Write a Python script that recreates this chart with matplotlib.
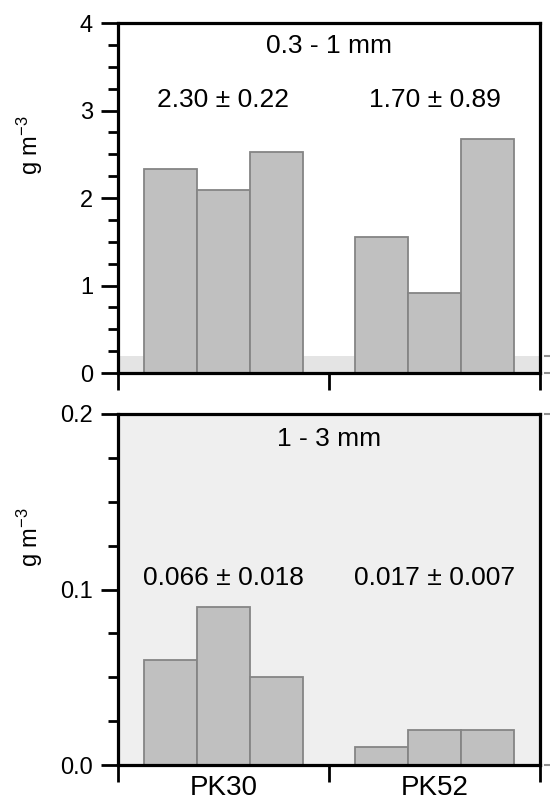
import matplotlib
matplotlib.use("Agg")
import matplotlib.pyplot as plt
from matplotlib.ticker import MultipleLocator, FixedLocator, FormatStrFormatter
import matplotlib.transforms as mtransforms

# ---- data ----
groups = ["PK30", "PK52"]
fine_values = [2.33, 2.09, 2.53, 1.55, 0.92, 2.67]      # 0.3 - 1 mm
coarse_values = [0.060, 0.090, 0.050, 0.010, 0.020, 0.020]  # 1 - 3 mm
bar_positions = [0.25, 0.5, 0.75, 1.25, 1.5, 1.75]
fine_title = "0.3 - 1 mm"
coarse_title = "1 - 3 mm"
fine_stats = ["2.30 ± 0.22", "1.70 ± 0.89"]
coarse_stats = ["0.066 ± 0.018", "0.017 ± 0.007"]
zoom_range = (0.0, 0.2)

plt.rcParams['font.family'] = ['Liberation Sans', 'DejaVu Sans']
plt.rcParams['mathtext.default'] = 'regular'

fig = plt.figure(figsize=(5.5, 8.02), dpi=100)
ax1 = fig.add_axes([0.2145, 0.5349, 0.7673, 0.4364])
ax2 = fig.add_axes([0.2145, 0.0461, 0.7673, 0.4377])

bar_face = "#c0c0c0"
bar_edge = "#858585"
band_col = "#e4e4e4"
bg2 = "#efefef"
ann_size = 19

for ax in (ax1, ax2):
    for s in ax.spines.values():
        s.set_linewidth(2.3)
        s.set_color("black")
    ax.set_xlim(0, 2)
    ax.xaxis.set_major_locator(FixedLocator([0, 1, 2]))
    ax.set_xticklabels([])
    ax.tick_params(axis='x', which='major', direction='out', length=12, width=2.0, top=False)
    ax.tick_params(axis='y', which='major', direction='out', length=12, width=2.0, labelsize=17, right=False, pad=6)
    ax.tick_params(axis='y', which='minor', direction='out', length=7, width=2.0, right=False)
    ax.set_ylabel("g m$^{-3}$", fontsize=17)
    ax.yaxis.set_label_coords(-0.173, 0.65)

# top panel
ax1.axhspan(zoom_range[0], zoom_range[1], color=band_col, zorder=0, lw=0)
ax1.bar(bar_positions, fine_values, width=0.25, color=bar_face, edgecolor=bar_edge, linewidth=1.3, zorder=2)
ax1.set_ylim(0, 4)
ax1.yaxis.set_major_locator(MultipleLocator(1))
ax1.yaxis.set_minor_locator(MultipleLocator(0.25))
ax1.text(1.0, 3.74, fine_title, ha='center', va='center', fontsize=ann_size)
ax1.text(0.5, 3.12, fine_stats[0], ha='center', va='center', fontsize=ann_size)
ax1.text(1.5, 3.12, fine_stats[1], ha='center', va='center', fontsize=ann_size)

# bottom panel
ax2.set_facecolor(bg2)
ax2.bar(bar_positions, coarse_values, width=0.25, color=bar_face, edgecolor=bar_edge, linewidth=1.3, zorder=2)
ax2.set_ylim(*zoom_range)
ax2.yaxis.set_major_locator(MultipleLocator(0.1))
ax2.yaxis.set_minor_locator(MultipleLocator(0.025))
ax2.yaxis.set_major_formatter(FormatStrFormatter('%.1f'))
ax2.xaxis.set_minor_locator(FixedLocator([0.5, 1.5]))
ax2.set_xticklabels(groups, minor=True, fontsize=20)
ax2.tick_params(axis='x', which='minor', length=0, pad=7)
ax2.text(1.0, 0.186, coarse_title, ha='center', va='center', fontsize=ann_size)
ax2.text(0.5, 0.1066, coarse_stats[0], ha='center', va='center', fontsize=ann_size)
ax2.text(1.5, 0.1066, coarse_stats[1], ha='center', va='center', fontsize=ann_size)

# zoom indicator dashes to the right of the panels
for ax in (ax1, ax2):
    tr = mtransforms.blended_transform_factory(ax.transAxes, ax.transData)
    for yv in zoom_range:
        ax.plot([1.012, 1.025], [yv, yv], color="#909090", lw=1.5, transform=tr, clip_on=False)

fig.savefig("out.png", dpi=100)
